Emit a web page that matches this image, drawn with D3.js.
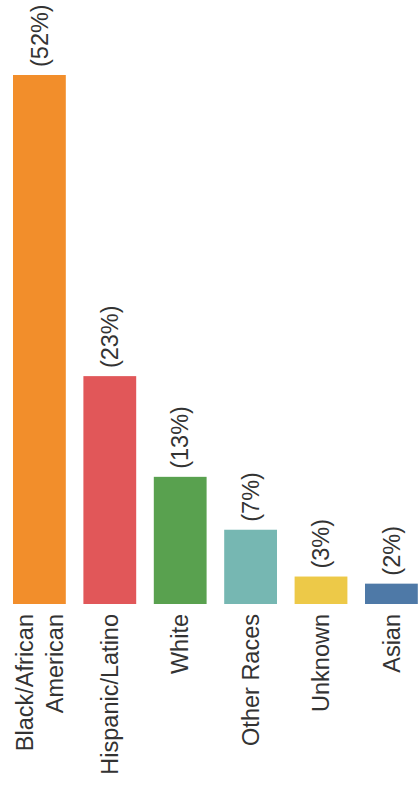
<!DOCTYPE html>
<html>
<head>
<meta charset="utf-8">
<script src="https://cdn.jsdelivr.net/npm/d3@7"></script>
<style>
  html, body { margin: 0; padding: 0; background: #fff; }
  svg { display: block; }
  text { font-family: "Liberation Sans", Arial, sans-serif; fill: #333; }
</style>
</head>
<body>
<div class="container"></div>
<script>
(function() {
  // Chart data
  var categories = ['Black/African American', 'Hispanic/Latino', 'White', 'Other Races', 'Unknown', 'Asian'];
  var values = [52, 22.4, 12.5, 7.3, 2.7, 2.0];
  var valueLabels = ['(52%)', '(23%)', '(13%)', '(7%)', '(3%)', '(2%)'];
  var colors = ['#f28e2b', '#e15759', '#59a14f', '#76b7b2', '#edc948', '#4e79a7'];

  var width = 418, height = 785;
  var baseY = 604, topY = 75;
  var fontSize = 23.5;

  var svg = d3.select('div.container').append('svg')
    .attr('width', width)
    .attr('height', height);

  var x = d3.scaleBand()
    .domain(categories)
    .range([4.2, 426.6])
    .paddingInner(0.25)
    .paddingOuter(0.125);

  var y = d3.scaleLinear()
    .domain([0, 52])
    .range([baseY, topY]);

  var color = d3.scaleOrdinal().domain(categories).range(colors);

  // Bars
  svg.selectAll('rect.bar')
    .data(categories)
    .enter().append('rect')
    .attr('class', 'bar')
    .attr('x', function(d) { return x(d); })
    .attr('y', function(d, i) { return y(values[i]); })
    .attr('width', x.bandwidth())
    .attr('height', function(d, i) { return baseY - y(values[i]); })
    .attr('fill', function(d) { return color(d); });

  // Value labels above bars (rotated)
  svg.selectAll('text.value')
    .data(categories)
    .enter().append('text')
    .attr('class', 'value')
    .attr('transform', function(d, i) {
      return 'translate(' + (x(d) + x.bandwidth() / 2) + ',' + (y(values[i]) - 8) + ') rotate(-90)';
    })
    .attr('text-anchor', 'start')
    .attr('dy', '0.35em')
    .style('font-size', fontSize + 'px')
    .text(function(d, i) { return valueLabels[i]; });

  // Category labels (rotated, wrapped when long)
  var wrap = function(name) {
    if (name.length <= 16) return [name];
    var k = name.indexOf(' ');
    return [name.slice(0, k), name.slice(k + 1)];
  };

  var lineGap = 30;
  var labels = svg.selectAll('g.cat')
    .data(categories)
    .enter().append('g')
    .attr('class', 'cat')
    .attr('transform', function(d) {
      return 'translate(' + (x(d) + x.bandwidth() / 2) + ',' + (baseY + 10) + ') rotate(-90)';
    });

  labels.each(function(d) {
    var lines = wrap(d);
    var g = d3.select(this);
    lines.forEach(function(line, j) {
      g.append('text')
        .attr('text-anchor', 'end')
        .attr('y', (j - (lines.length - 1) / 2) * lineGap)
        .attr('dy', '0.35em')
        .style('font-size', fontSize + 'px')
        .text(line);
    });
  });
})();
</script>
</body>
</html>
